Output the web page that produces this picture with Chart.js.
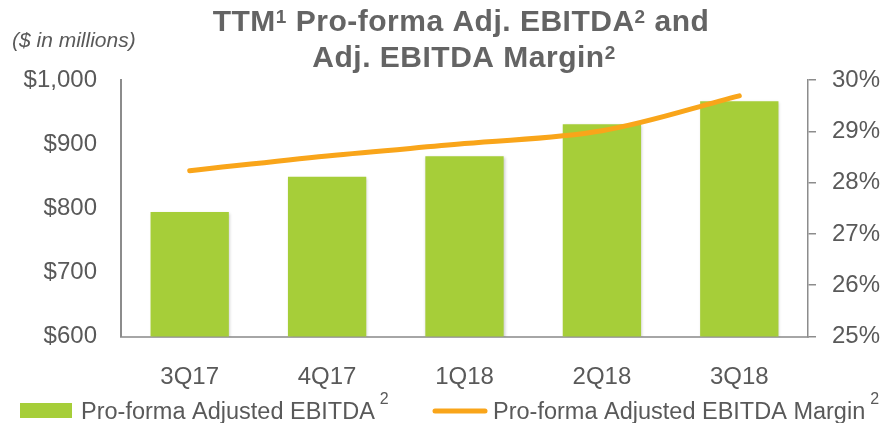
<!DOCTYPE html>
<html>
<head>
<meta charset="utf-8">
<script src="https://cdn.jsdelivr.net/npm/chart.js@4/dist/chart.umd.min.js"></script>
<style>
  html, body { margin: 0; padding: 0; background: #fff; }
  #wrap { width: 886px; height: 423px; position: relative; }
</style>
</head>
<body>
<div id="wrap"><canvas id="chart"></canvas></div>
<script>
const quarters = ['3Q17', '4Q17', '1Q18', '2Q18', '3Q18']
const ebitda = [794, 849, 881, 931, 967]          // $ millions
const margin = [28.23, 28.52, 28.76, 29.01, 29.69] // %

const GREEN = '#a6ce39'
const ORANGE = '#f9a51a'
const TEXT = '#595959'
const AXIS = '#8c8c8c'
const FONT = '"Liberation Sans", Arial, sans-serif'

// draws text pieces, [text, isSup], centred on cx
function richLine(ctx, parts, cx, y, size, supSize, spacing) {
  const fontOf = sup => 'bold ' + (sup ? supSize : size) + 'px ' + FONT
  let total = 0
  ctx.letterSpacing = spacing + 'px'
  parts.forEach(([t, sup]) => { ctx.font = fontOf(sup); total += ctx.measureText(t).width })
  let x = cx - total / 2
  parts.forEach(([t, sup]) => {
    ctx.font = fontOf(sup)
    ctx.fillText(t, x, sup ? y - 8 : y)
    x += ctx.measureText(t).width
  })
  ctx.letterSpacing = '0px'
}

// title, unit note and legend drawn on top of the chart
const decor = {
  id: 'decor',
  afterDraw(chart) {
    const ctx = chart.ctx
    ctx.save()
    ctx.fillStyle = '#646464'
    ctx.textAlign = 'left'
    ctx.textBaseline = 'alphabetic'
    richLine(ctx, [['TTM', false], ['1', true], [' Pro-forma Adj. EBITDA', false], ['2', true], [' and', false]], 461, 31, 30, 19, 0.5)
    richLine(ctx, [['Adj. EBITDA Margin', false], ['2', true]], 464, 67, 30, 19, 0.5)

    ctx.fillStyle = TEXT
    ctx.font = 'italic 21px ' + FONT
    ctx.fillText('($ in millions)', 12, 47)

    // legend
    ctx.fillStyle = GREEN
    ctx.fillRect(20, 403, 52, 15)
    ctx.strokeStyle = ORANGE
    ctx.lineWidth = 5
    ctx.lineCap = 'round'
    ctx.beginPath()
    ctx.moveTo(435, 411)
    ctx.lineTo(485, 411)
    ctx.stroke()

    const items = [[81, 'Pro-forma Adjusted EBITDA'], [493, 'Pro-forma Adjusted EBITDA Margin']]
    items.forEach(([x, label]) => {
      ctx.fillStyle = TEXT
      ctx.font = '23.5px ' + FONT
      ctx.fillText(label, x, 419)
      const w = ctx.measureText(label).width
      ctx.font = '16px ' + FONT
      ctx.fillText('2', x + w + 5, 404)
    })
    ctx.restore()
  }
}

// soft shadow under the bars
const barShadow = {
  id: 'barShadow',
  beforeDatasetDraw(chart, args) {
    if (args.meta.type !== 'bar') return
    const ctx = chart.ctx
    ctx.save()
    ctx.shadowColor = 'rgba(0,0,0,0.22)'
    ctx.shadowBlur = 3
    ctx.shadowOffsetX = 1
    ctx.shadowOffsetY = 1
  },
  afterDatasetDraw(chart, args) {
    if (args.meta.type !== 'bar') return
    chart.ctx.restore()
  }
}

new Chart(document.getElementById('chart'), {
  type: 'bar',
  data: {
    labels: quarters,
    datasets: [
      {
        type: 'line',
        label: 'Pro-forma Adjusted EBITDA Margin',
        data: margin,
        yAxisID: 'y1',
        borderColor: ORANGE,
        borderWidth: 5,
        borderCapStyle: 'round',
        tension: 0.35,
        pointRadius: 0,
        order: 0
      },
      {
        type: 'bar',
        label: 'Pro-forma Adjusted EBITDA',
        data: ebitda,
        yAxisID: 'y',
        backgroundColor: GREEN,
        barPercentage: 0.57,
        categoryPercentage: 1,
        order: 1
      }
    ]
  },
  options: {
    responsive: true,
    maintainAspectRatio: false,
    animation: false,
    layout: { padding: { top: 80, left: 0, right: 0, bottom: 0 } },
    plugins: {
      legend: { display: false },
      title: { display: false },
      tooltip: { enabled: false }
    },
    scales: {
      x: {
        grid: { display: false, drawTicks: false },
        border: { display: true, color: '#a6a6a6', width: 2 },
        ticks: { color: TEXT, font: { family: FONT, size: 24 }, padding: 26 },
        afterFit(s) { s.height = 86.5 }
      },
      y: {
        position: 'left',
        min: 600,
        max: 1000,
        ticks: {
          stepSize: 100,
          color: TEXT,
          font: { family: FONT, size: 24 },
          padding: 24,
          callback: v => '$' + v.toLocaleString('en-US')
        },
        grid: { drawOnChartArea: false, drawTicks: false },
        border: { display: true, color: AXIS, width: 2 },
        afterFit(s) { s.width = 121 }
      },
      y1: {
        position: 'right',
        min: 25,
        max: 30,
        ticks: {
          stepSize: 1,
          color: TEXT,
          font: { family: FONT, size: 24 },
          padding: 16,
          callback: v => v + '%'
        },
        grid: { drawOnChartArea: false, drawTicks: true, tickLength: 8, color: AXIS, lineWidth: 1.5 },
        border: { display: true, color: AXIS, width: 1.5 },
        afterFit(s) { s.width = 78 }
      }
    }
  },
  plugins: [decor, barShadow]
})
</script>
</body>
</html>
